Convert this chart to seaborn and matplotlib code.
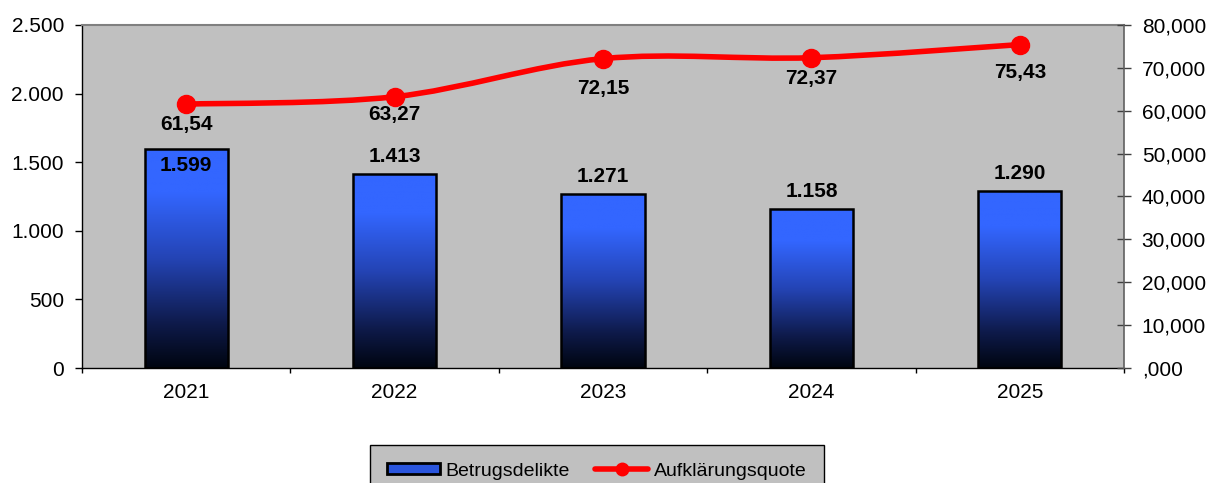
import numpy as np
import matplotlib
matplotlib.use("Agg")
import matplotlib.pyplot as plt
import seaborn as sns
import pandas as pd
from matplotlib.path import Path
from matplotlib.patches import PathPatch, Patch
from matplotlib.lines import Line2D
from matplotlib.colors import LinearSegmentedColormap

# data
years = ["2021", "2022", "2023", "2024", "2025"]
betrug = [1599, 1413, 1271, 1158, 1290]
quote = [61.54, 63.27, 72.15, 72.37, 75.43]
left_ticks = [0, 500, 1000, 1500, 2000, 2500]
right_ticks = [0, 10, 20, 30, 40, 50, 60, 70, 80]

# label placement (points below each marker, as Excel placed them)
quote_label_drop = [15, 13, 21.5, 15, 20]


def de_int(v):
    return f"{v:,.0f}".replace(",", ".")


def de_dec(v, n=2):
    return f"{v:.{n}f}".replace(".", ",")


def right_fmt(v):
    s = f"{v:,.3f}".replace(".", ",")
    return s[1:] if s.startswith("0,") else s


sns.set_style("white")
plt.rcParams["font.family"] = ["Liberation Sans", "DejaVu Sans"]
plt.rcParams["text.color"] = "black"
plt.rcParams["xtick.color"] = "black"
plt.rcParams["ytick.color"] = "black"

fig = plt.figure(figsize=(12.12, 4.83), dpi=100)
ax = fig.add_axes([82 / 1212, 115 / 483, 1042 / 1212, 343 / 483])
ax.set_facecolor("#C0C0C0")

df = pd.DataFrame({"Jahr": years, "Betrugsdelikte": betrug})
sns.barplot(data=df, x="Jahr", y="Betrugsdelikte", ax=ax, width=0.4,
            color="#3366FF", edgecolor="black", linewidth=1.8, zorder=2)

# vertical gradient fill: bright blue at top, almost black at the base
grad_cmap = LinearSegmentedColormap.from_list(
    "bl", [(0.0, "#000510"), (0.2, "#0E1A4A"), (0.5, "#2444B5"),
           (0.8, "#3366FF"), (1.0, "#3366FF")])
grad = np.linspace(0, 1, 256).reshape(-1, 1)
for p in list(ax.patches):
    x0, y0 = p.get_x(), p.get_y()
    w, h = p.get_width(), p.get_height()
    im = ax.imshow(grad, cmap=grad_cmap, origin="lower", aspect="auto",
                   extent=(x0, x0 + w, y0, y0 + h), zorder=2.5)
    im.set_clip_path(p)
    p.set_facecolor("none")
    p.set_zorder(3)

ax.set_xlim(-0.5, 4.5)
ax.set_ylim(0, 2500)
ax.set_yticks(left_ticks)
ax.set_yticklabels([de_int(v) for v in left_ticks], fontsize=15)
ax.set_xlabel("")
ax.set_ylabel("")
ax.tick_params(axis="y", direction="out", length=5, width=1, color="black", left=True, pad=8)
ax.tick_params(axis="x", which="major", length=0, labelsize=15, pad=11)
ax.set_xticks(np.arange(-0.5, 5, 1), minor=True)
ax.tick_params(axis="x", which="minor", direction="out", length=3.5, width=1, color="black", bottom=True)

for i, v in enumerate(betrug):
    dy = -12.5 if i == 0 else 12.5
    ax.annotate(de_int(v), (i, v), xytext=(0, dy), textcoords="offset points",
                ha="center", va="center", fontsize=15, fontweight="bold", zorder=5)

for s in ["left", "bottom"]:
    ax.spines[s].set_color("black")
    ax.spines[s].set_linewidth(1)
ax.spines["top"].set_color("#808080")
ax.spines["top"].set_linewidth(1.5)
ax.spines["right"].set_visible(False)

# second axis with the smoothed rate line
ax2 = ax.twinx()
ax2.set_ylim(0, 80)
ax2.set_yticks(right_ticks)
ax2.set_yticklabels([right_fmt(v) for v in right_ticks], fontsize=15)
ax2.tick_params(axis="y", direction="inout", length=9.5, width=1, color="#404040", pad=8)
for s in ["left", "top", "bottom"]:
    ax2.spines[s].set_visible(False)
ax2.spines["right"].set_color("#606060")
ax2.spines["right"].set_linewidth(1.2)

xs = np.arange(len(quote), dtype=float)
pts = np.column_stack([xs, quote])
ext = np.vstack([pts[0], pts, pts[-1]])
verts = [tuple(pts[0])]
codes = [Path.MOVETO]
for i in range(len(pts) - 1):
    p0, p1, p2, p3 = ext[i], ext[i + 1], ext[i + 2], ext[i + 3]
    c1 = p1 + (p2 - p0) / 6.0
    c2 = p2 - (p3 - p1) / 6.0
    verts += [tuple(c1), tuple(c2), tuple(p2)]
    codes += [Path.CURVE4] * 3
ax2.add_patch(PathPatch(Path(verts, codes), facecolor="none", edgecolor="#FF0000",
                        linewidth=4, zorder=4))
ax2.plot(xs, quote, "o", color="#FF0000", markersize=13, zorder=5)

for i, v in enumerate(quote):
    ax2.annotate(de_dec(v), (i, v), xytext=(0, -quote_label_drop[i]), textcoords="offset points",
                 ha="center", va="center", fontsize=15, fontweight="bold", zorder=6)

handles = [
    Patch(facecolor="#2A55DD", edgecolor="black", linewidth=2),
    Line2D([0], [0], color="#FF0000", linewidth=4, marker="o", markersize=9),
]
leg = fig.legend(handles, ["Betrugsdelikte", "Aufklärungsquote"], loc="upper center",
                 bbox_to_anchor=(597 / 1212, 38 / 483), ncol=2, fontsize=14,
                 frameon=True, fancybox=False, facecolor="#C0C0C0", edgecolor="black",
                 framealpha=1, handlelength=2.7, handleheight=0.5, columnspacing=1.3,
                 handletextpad=0.3, borderpad=0.9, borderaxespad=0)
leg.get_frame().set_linewidth(1)

fig.savefig("out.png", dpi=100)
